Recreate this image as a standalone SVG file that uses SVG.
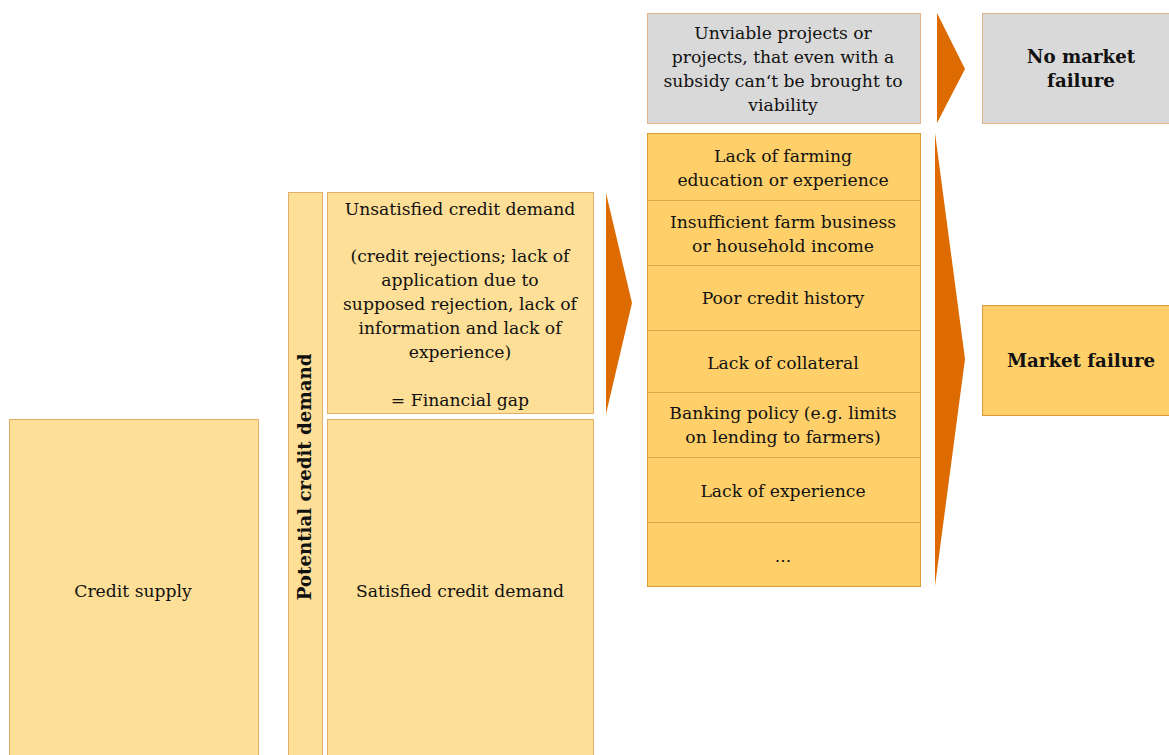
<svg xmlns="http://www.w3.org/2000/svg" width="1169" height="755" viewBox="0 0 1169 755">
<style>
text{font-family:"DejaVu Serif","Liberation Serif",serif;font-size:17.2px;fill:#111;text-anchor:middle}
.b{font-weight:bold;font-size:18.2px}
.light{fill:#FDDF98;stroke:#E2AE6A;stroke-width:1}
.dark{fill:#FFD069;stroke:#DB9A3C;stroke-width:1}
.grey{fill:#D9D9D9;stroke:#E2B58A;stroke-width:1}
.div{stroke:#E0A64E;stroke-width:1}
.arr{fill:#DD6B00}
</style>
<rect width="1169" height="755" fill="#fff"/>
<g id="credit-supply">
<rect class="light" x="9.5" y="419.5" width="249" height="340"/>
<text x="133" y="597">Credit supply</text>
</g>
<g id="potential-demand">
<rect class="light" x="288.5" y="192.5" width="34" height="570"/>
<text class="b" transform="translate(311,477) rotate(-90)">Potential credit demand</text>
</g>
<g id="unsatisfied">
<rect class="light" x="327.5" y="192.5" width="266" height="221"/>
<text x="460" y="215">Unsatisfied credit demand</text>
<text x="460" y="262">(credit rejections; lack of</text>
<text x="460" y="286">application due to</text>
<text x="460" y="310">supposed rejection, lack of</text>
<text x="460" y="334">information and lack of</text>
<text x="460" y="358">experience)</text>
<text x="460" y="406">= Financial gap</text>
</g>
<g id="satisfied">
<rect class="light" x="327.5" y="419.5" width="266" height="340"/>
<text x="460" y="597">Satisfied credit demand</text>
</g>
<g id="unviable">
<rect class="grey" x="647.5" y="13.5" width="273" height="110"/>
<text x="783" y="39">Unviable projects or</text>
<text x="783" y="63">projects, that even with a</text>
<text x="783" y="87">subsidy can‘t be brought to</text>
<text x="783" y="111">viability</text>
</g>
<g id="no-market-failure">
<rect class="grey" x="982.5" y="13.5" width="190" height="110"/>
<text class="b" x="1081" y="63">No market</text>
<text class="b" x="1081" y="87">failure</text>
</g>
<g id="reasons">
<rect class="dark" x="647.5" y="133.5" width="273" height="453"/>
<line class="div" x1="648" y1="200.5" x2="920" y2="200.5"/>
<line class="div" x1="648" y1="265.5" x2="920" y2="265.5"/>
<line class="div" x1="648" y1="330.5" x2="920" y2="330.5"/>
<line class="div" x1="648" y1="392.5" x2="920" y2="392.5"/>
<line class="div" x1="648" y1="457.5" x2="920" y2="457.5"/>
<line class="div" x1="648" y1="522.5" x2="920" y2="522.5"/>
<text x="783" y="162">Lack of farming</text>
<text x="783" y="186">education or experience</text>
<text x="783" y="228">Insufficient farm business</text>
<text x="783" y="252">or household income</text>
<text x="783" y="304">Poor credit history</text>
<text x="783" y="369">Lack of collateral</text>
<text x="783" y="419">Banking policy (e.g. limits</text>
<text x="783" y="443">on lending to farmers)</text>
<text x="783" y="497">Lack of experience</text>
<text x="783" y="562">...</text>
</g>
<g id="market-failure">
<rect class="dark" x="982.5" y="305.5" width="190" height="110"/>
<text class="b" x="1081" y="367">Market failure</text>
</g>
<g id="connectors">
<polygon class="arr" points="606,193 632,303 606,414"/>
<polygon class="arr" points="937,13 965,69 937,123"/>
<polygon class="arr" points="935,133 965,359 935,586"/>
</g>
</svg>
